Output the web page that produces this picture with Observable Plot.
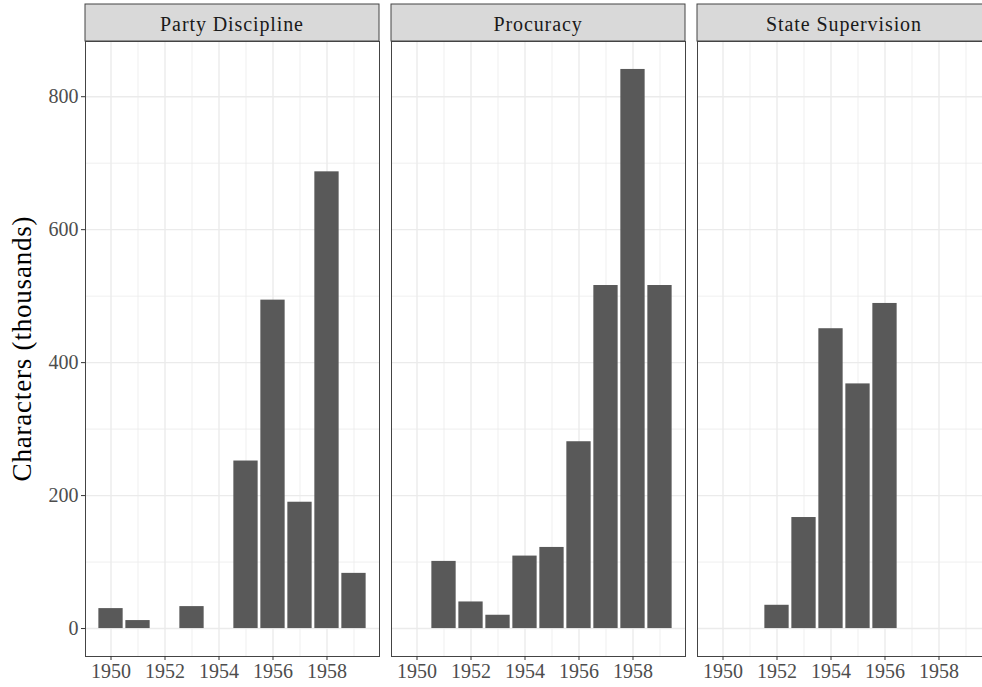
<!DOCTYPE html>
<html><head><meta charset="utf-8">
<script src="https://cdn.jsdelivr.net/npm/d3@7"></script>
<script src="https://cdn.jsdelivr.net/npm/@observablehq/plot@0.6"></script>
<style>html,body{margin:0;padding:0;background:#fff;overflow:hidden;width:982px;height:687px}
#chart svg{max-width:none !important;}</style>
</head><body><div id="chart"></div>
<script>
const categories = ["Party Discipline", "Procuracy", "State Supervision"];
const partyYears = [1950, 1951, 1953, 1955, 1956, 1957, 1958, 1959];
const partyValues = [30, 12, 33, 252, 494, 190, 687, 83];
const procYears = [1951, 1952, 1953, 1954, 1955, 1956, 1957, 1958, 1959];
const procValues = [101, 40, 20, 109, 122, 281, 516, 841, 516];
const stateYears = [1952, 1953, 1954, 1955, 1956];
const stateValues = [35, 167, 451, 368, 489];
const xTicks = [1950, 1952, 1954, 1956, 1958];
const xMinor = [1951, 1953, 1955, 1957, 1959];
const yTicks = [0, 200, 400, 600, 800];
const yMinor = [100, 300, 500, 700];
const yTitle = "Characters (thousands)";

const rows = [
  ...partyYears.map((y, i) => ({category: categories[0], year: y, value: partyValues[i]})),
  ...procYears.map((y, i) => ({category: categories[1], year: y, value: procValues[i]})),
  ...stateYears.map((y, i) => ({category: categories[2], year: y, value: stateValues[i]}))
];

const W = 995, H = 687, ML = 85, MR = W - 991, MT = 41, MB = 31;
const pInner = 12 / 306;
const font = "'Liberation Serif', 'Times New Roman', serif";
const yMax = d3.max(rows, d => d.value);
const yPad = yMax * 0.05;
const xLo = d3.min(rows, d => d.year) - 0.45, xHi = d3.max(rows, d => d.year) + 0.45;
const xPad = (xHi - xLo) * 0.05;

const chart = Plot.plot({
  width: W, height: H,
  marginLeft: ML, marginRight: MR, marginTop: MT, marginBottom: MB,
  style: {fontFamily: font, background: "#fff", overflow: "visible", maxWidth: "none"},
  fx: {domain: categories, paddingInner: pInner, paddingOuter: 0, axis: null, label: null},
  x: {domain: [xLo - xPad, xHi + xPad], label: null},
  y: {domain: [-yPad, yMax + yPad], label: null},
  marks: [
    Plot.gridX({ticks: xMinor, stroke: "#EBEBEB", strokeOpacity: 1, strokeWidth: 0.8}),
    Plot.gridY({ticks: yMinor, stroke: "#EBEBEB", strokeOpacity: 1, strokeWidth: 0.8}),
    Plot.gridX({ticks: xTicks, stroke: "#EBEBEB", strokeOpacity: 1, strokeWidth: 1.4}),
    Plot.gridY({ticks: yTicks, stroke: "#EBEBEB", strokeOpacity: 1, strokeWidth: 1.4}),
    Plot.rect(rows, {fx: "category", x1: d => d.year - 0.45, x2: d => d.year + 0.45, y1: 0, y2: "value", fill: "#595959"}),
    Plot.frame({stroke: "#444", strokeWidth: 1}),
    Plot.axisX({ticks: xTicks, tickFormat: d => String(d), tickSize: 4, tickPadding: 3, fontSize: 20, fill: "#4D4D4D", stroke: "#333", label: null, anchor: "bottom"}),
    Plot.axisY({ticks: yTicks, tickFormat: d => String(d), tickSize: 4, tickPadding: 3, fontSize: 20, fill: "#4D4D4D", stroke: "#333", label: null, anchor: "left"})
  ]
});
chart.style.maxWidth = "none";
document.getElementById("chart").appendChild(chart);

// facet strips and y title, positioned from the fx scale
const fx = chart.scale("fx");
const span = (W - MR) - ML;
const step = fx.step || span / (categories.length - pInner);
const bw = fx.bandwidth || step * (1 - pInner);
const svg = d3.select(chart);
const g = svg.append("g").attr("font-family", font);
categories.forEach((c, i) => {
  const x0 = fx.apply ? fx.apply(c) : ML + i * step;
  g.append("rect").attr("x", x0).attr("y", 4).attr("width", bw).attr("height", MT - 4)
    .attr("fill", "#D9D9D9").attr("stroke", "#444").attr("stroke-width", 1);
  g.append("text").attr("x", x0 + bw / 2).attr("y", (4 + MT) / 2 + 1)
    .attr("text-anchor", "middle").attr("dominant-baseline", "central")
    .attr("font-size", 20).attr("letter-spacing", "0.9px").attr("fill", "#1A1A1A").text(c);
});
const cy = (MT + H - MB) / 2;
g.append("text").attr("transform", `translate(22,${cy}) rotate(-90)`)
  .attr("text-anchor", "middle").attr("dominant-baseline", "central")
  .attr("font-size", 27).attr("letter-spacing", "0.8px").attr("fill", "#000").text(yTitle);
</script>
</body></html>
